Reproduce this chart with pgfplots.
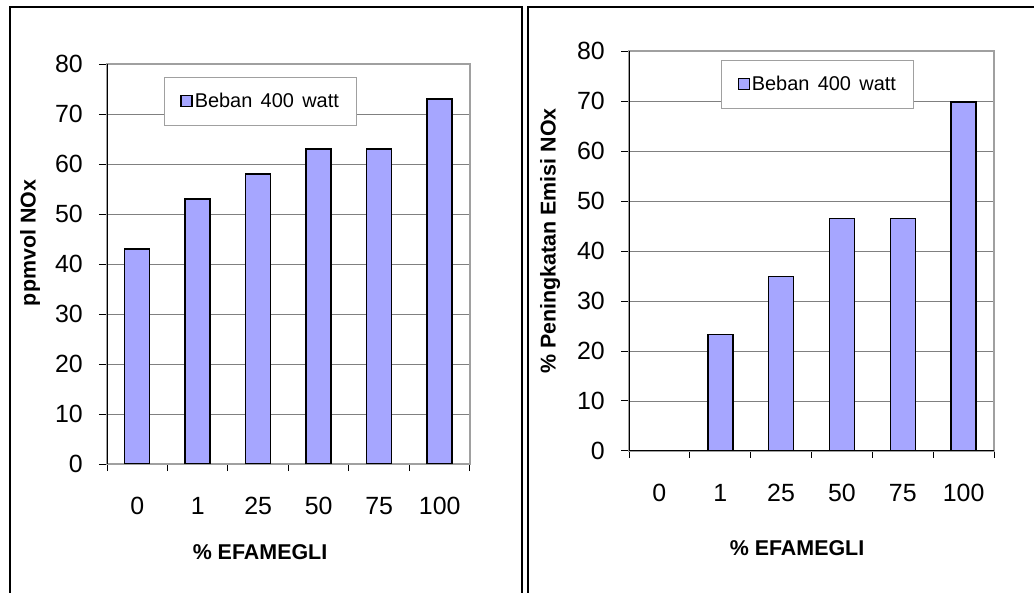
\documentclass[border=0pt]{standalone}
\usepackage{fontspec}
\setmainfont{Liberation Sans}
\usepackage{pgfplots}
\pgfplotsset{compat=1.18}

\definecolor{barfill}{HTML}{A6A6FF}
\definecolor{framegray}{HTML}{A0A0A0}
\definecolor{gridgray}{HTML}{808080}

% NOx (ppmvol) at 400 W load for each EFAMEGLI blend
\pgfplotstableread{
idx val
0 43
1 53
2 58
3 63
4 63
5 73
}\noxdata
% relative increase of NOx emission against 0 % EFAMEGLI
\pgfplotstableread{
idx val
0 0
1 23.26
2 34.88
3 46.51
4 46.51
5 69.77
}\increasedata

\pgfplotsset{
  efa/.style={
    scale only axis, anchor=south west,
    width=#1, height=400bp,
    xmin=-0.5, xmax=5.5, ymin=0, ymax=80,
    xtick={0,...,5}, xticklabels={0,1,25,50,75,100},
    major x tick style={draw=none},
    minor xtick={-0.5,0.5,...,5.5},
    minor x tick style={black, line width=1bp},
    ytick={0,10,...,80},
    xtick pos=left, ytick pos=left,
    tick align=outside,
    major tick length=8bp, minor tick length=7bp,
    tick style={black, line width=1bp},
    ymajorgrids, major grid style={gridgray, line width=0.9bp},
    axis line style={framegray, line width=1.5bp},
    ybar, bar width=25bp,
    /pgf/number format/assume math mode=true,
    ticklabel style={font=\fontsize{25}{25}\selectfont},
    yticklabel style={anchor=east, inner sep=0pt, xshift=-16bp},
    xticklabel style={anchor=north, inner sep=0pt, yshift=-25bp},
    label style={font=\bfseries\fontsize{21.5}{21.5}\selectfont},
    legend style={anchor=north west, draw=framegray, line width=1bp, fill=white,
      font=\fontsize{20}{20}\selectfont, inner xsep=16bp, inner ysep=14bp},
    legend image code/.code={\draw[fill=barfill, draw=black, line width=1.3bp]
      (0bp,-5bp) rectangle (11bp,6bp);},
  },
}

\begin{document}
\begin{tikzpicture}
\path[use as bounding box] (0,0) rectangle (1034bp,593bp);
\fill[white] (0,0) rectangle (1034bp,593bp);

% panel frames
\draw[black, line width=1.8bp] (10bp,-2bp) -- (10bp,586bp) -- (522bp,586bp) -- (522bp,-2bp);
\draw[black, line width=1.4bp] (528bp,-2bp) -- (528bp,586bp) -- (1040bp,586bp);

\begin{axis}[efa=363bp, at={(107bp,129bp)},
  xlabel={\% EFAMEGLI}, ylabel={ppmvol NOx},
  xlabel style={at={(rel axis cs:0.4215,-0.22)}, anchor=center},
  ylabel style={at={(rel axis cs:-0.2121,0.5525)}, anchor=center, rotate=0},
  legend style={at={(rel axis cs:0.157,0.9675)}},
]
\addplot[fill=barfill, draw=black, line width=1.5bp] table[x=idx, y=val] {\noxdata};
\addlegendentry{Beban\hspace{0.42em}400\hspace{0.42em}watt}
\draw[black, line width=1bp] (rel axis cs:0,1) -- (rel axis cs:0,0) -- (rel axis cs:1,0);
\end{axis}

\begin{axis}[efa=365bp, at={(629bp,142bp)},
  xlabel={\% EFAMEGLI}, ylabel={\% Peningkatan Emisi NOx},
  xlabel style={at={(rel axis cs:0.4603,-0.2425)}, anchor=center},
  ylabel style={at={(rel axis cs:-0.2164,0.525)}, anchor=center, rotate=0},
  legend style={at={(rel axis cs:0.2521,0.9775)}},
]
\addplot[fill=barfill, draw=black, line width=1.5bp] table[x=idx, y=val] {\increasedata};
\addlegendentry{Beban\hspace{0.42em}400\hspace{0.42em}watt}
\draw[black, line width=1bp] (rel axis cs:0,1) -- (rel axis cs:0,0) -- (rel axis cs:1,0);
\end{axis}
\end{tikzpicture}
\end{document}
